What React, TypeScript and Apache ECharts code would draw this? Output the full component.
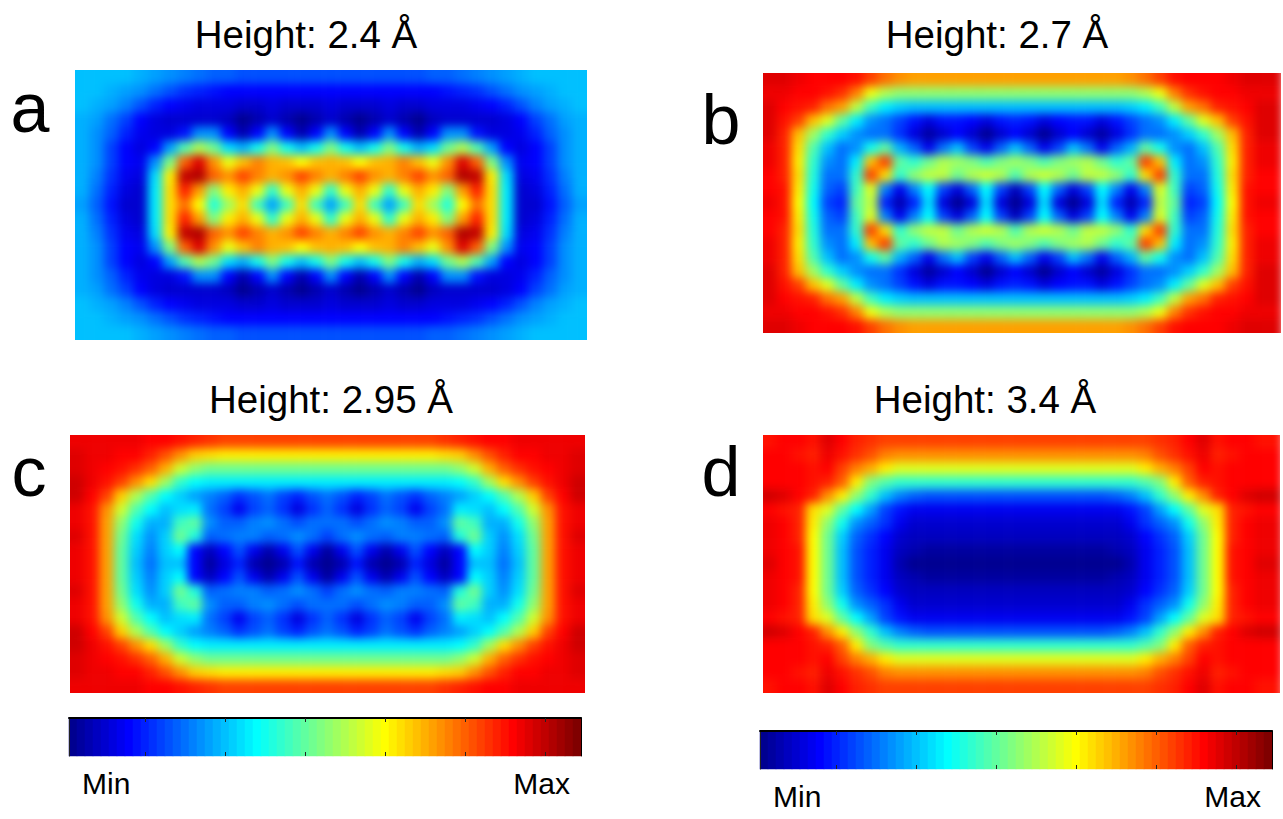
import React, { useEffect, useRef } from "react";
import * as echarts from "echarts";

const titles = ["Height: 2.4 Å", "Height: 2.7 Å", "Height: 2.95 Å", "Height: 3.4 Å"];
const letters = ["a", "b", "c", "d"];
const barLabels = ["Min", "Max"];
const jet = ["#000080", "#0000ff", "#0080ff", "#00ffff", "#80ff80", "#ffff00", "#ff8000", "#ff0000", "#800000"];
const levels = [1,2,3,4,5,6,7,8,9,10,11,12,13,14,15,16,17,18,19,20,21,22,23,24,25,26,27,28,29,30,31,32,33,34,35,36,37,38,39,40,41,42,43,44,45,46,47,48,49,50,51,52,53,54,55,56,57,58,59,60,61,62,63,64];

const panelA = [
[20,20,20,20,19,18,17,16,15,14,14,13,13,13,13,13,13,13,13,13,13,13,13,13,14,14,15,16,17,18,19,20,20,20,20],
[20,20,19,18,17,15,13,11,10,9,8,8,8,8,8,8,8,8,8,8,8,8,8,8,8,9,10,11,13,15,17,18,19,20,20],
[20,19,18,16,13,10,8,7,6,6,6,5,5,6,5,5,5,6,5,5,5,6,5,5,6,6,6,7,8,10,13,16,18,19,20],
[19,18,15,12,8,6,5,5,5,5,4,1,3,5,3,1,3,5,3,1,3,5,3,1,4,5,5,5,5,6,8,12,15,18,19],
[19,17,14,10,7,6,6,9,17,17,8,3,8,17,8,3,8,17,8,3,8,17,8,3,8,17,17,9,6,6,7,10,14,17,19],
[19,17,12,8,6,8,18,29,35,31,22,19,25,32,25,20,25,32,25,20,25,32,25,19,22,31,35,29,18,8,6,8,12,17,19],
[19,17,12,8,7,17,32,50,58,47,39,44,48,45,44,40,44,45,44,40,44,45,48,44,39,47,58,50,32,17,7,8,12,17,19],
[19,16,11,7,6,22,41,60,61,50,47,52,48,45,47,52,48,45,48,52,47,45,48,52,47,50,61,60,41,22,6,7,11,16,19],
[19,15,10,6,5,23,42,54,46,32,41,45,39,27,39,45,39,27,39,45,39,27,39,45,41,32,46,54,42,23,5,6,10,15,19],
[18,14,9,5,5,23,42,49,40,26,34,42,28,18,28,42,28,18,28,42,28,18,28,42,34,26,40,49,42,23,5,5,9,14,18],
[19,15,10,6,5,23,42,54,46,32,41,45,39,27,39,45,39,27,39,45,39,27,39,45,41,32,46,54,42,23,5,6,10,15,19],
[19,16,11,7,6,22,41,60,61,50,47,52,48,45,47,52,48,45,48,52,47,45,48,52,47,50,61,60,41,22,6,7,11,16,19],
[19,17,12,8,7,17,32,50,58,47,39,44,48,45,44,40,44,45,44,40,44,45,48,44,39,47,58,50,32,17,7,8,12,17,19],
[19,17,12,8,6,8,18,29,35,31,22,19,25,32,25,20,25,32,25,20,25,32,25,19,22,31,35,29,18,8,6,8,12,17,19],
[19,17,14,10,7,6,6,9,17,17,8,3,8,17,8,3,8,17,8,3,8,17,8,3,8,17,17,9,6,6,7,10,14,17,19],
[19,18,15,12,8,6,5,5,5,5,4,1,3,5,3,1,3,5,3,1,3,5,3,1,4,5,5,5,5,6,8,12,15,18,19],
[20,19,18,16,13,10,8,7,6,6,6,5,5,6,5,5,5,6,5,5,5,6,5,5,6,6,6,7,8,10,13,16,18,19,20],
[20,20,19,18,17,15,13,11,10,9,8,8,8,8,8,8,8,8,8,8,8,8,8,8,8,9,10,11,13,15,17,18,19,20,20],
[20,20,20,20,19,18,17,16,15,14,14,13,13,13,13,13,13,13,13,13,13,13,13,13,14,14,15,16,17,18,19,20,20,20,20],
];

const panelB = [
[58,58,57,56,56,56,55,52,49,47,46,46,46,46,46,46,46,46,46,46,46,46,46,46,46,47,49,52,55,56,56,56,57,58,58],
[57,57,56,56,55,53,48,39,35,33,33,33,33,33,33,33,33,33,33,33,33,33,33,33,33,33,35,39,48,53,55,56,56,57,57],
[58,56,55,54,49,46,36,28,23,21,20,20,20,20,20,20,20,20,20,20,20,20,20,20,20,21,23,28,36,46,49,54,55,56,58],
[58,55,52,44,38,30,23,17,15,12,9,6,9,9,8,6,9,10,9,6,8,9,9,6,9,12,15,17,23,30,38,44,52,55,58],
[58,54,44,34,27,21,17,15,15,11,6,2,5,8,5,1,5,8,5,1,5,8,5,2,6,11,15,15,17,21,27,34,44,54,58],
[57,54,42,29,20,15,17,25,30,19,14,7,15,20,12,7,14,20,14,7,12,20,15,7,14,19,30,25,17,15,20,29,42,54,57],
[57,54,41,27,17,15,23,44,52,30,27,31,35,34,32,29,32,34,32,29,32,34,35,31,27,30,52,44,23,15,17,27,41,54,57],
[56,54,42,26,15,15,27,52,42,27,33,36,36,31,35,37,35,29,35,37,35,31,36,36,33,27,42,52,27,15,15,26,42,54,56],
[56,55,41,25,14,12,28,38,16,7,16,24,12,6,14,24,12,4,12,24,14,6,12,24,16,7,16,38,28,12,14,25,41,55,56],
[57,55,40,24,12,10,30,36,10,3,10,22,6,1,6,22,6,1,6,22,6,1,6,22,10,3,10,36,30,10,12,24,40,55,57],
[56,55,41,25,14,12,28,38,16,7,16,24,12,6,14,24,12,4,12,24,14,6,12,24,16,7,16,38,28,12,14,25,41,55,56],
[56,54,42,26,15,15,27,52,42,27,33,36,36,31,35,37,35,29,35,37,35,31,36,36,33,27,42,52,27,15,15,26,42,54,56],
[57,54,41,27,17,15,23,44,52,30,27,31,35,34,32,29,32,34,32,29,32,34,35,31,27,30,52,44,23,15,17,27,41,54,57],
[57,54,42,29,20,15,17,25,30,19,14,7,15,20,12,7,14,20,14,7,12,20,15,7,14,19,30,25,17,15,20,29,42,54,57],
[58,54,44,34,27,21,17,15,15,11,6,2,5,8,5,1,5,8,5,1,5,8,5,2,6,11,15,15,17,21,27,34,44,54,58],
[58,55,52,44,38,30,23,17,15,12,9,6,9,9,8,6,9,10,9,6,8,9,9,6,9,12,15,17,23,30,38,44,52,55,58],
[58,56,55,54,49,46,36,28,23,21,20,20,20,20,20,20,20,20,20,20,20,20,20,20,20,21,23,28,36,46,49,54,55,56,58],
[57,57,56,56,55,53,48,39,35,33,33,33,33,33,33,33,33,33,33,33,33,33,33,33,33,33,35,39,48,53,55,56,56,57,57],
[58,58,57,56,56,56,55,52,49,47,46,46,46,46,46,46,46,46,46,46,46,46,46,46,46,47,49,52,55,56,56,56,57,58,58],
];

const panelC = [
[57,57,57,57,57,56,56,55,54,53,52,52,52,52,52,52,52,52,52,52,52,52,52,52,52,53,54,55,56,56,57,57,57,57,57],
[58,57,57,56,56,54,51,47,43,42,41,41,41,41,41,41,41,41,41,41,41,41,41,41,41,42,43,47,51,54,56,56,57,57,58],
[58,57,56,55,53,50,45,37,33,31,31,31,31,31,31,31,31,31,31,31,31,31,31,31,31,31,33,37,45,50,53,55,56,57,58],
[59,57,55,52,47,42,34,27,24,23,23,23,23,23,23,23,23,23,23,23,23,23,23,23,23,23,24,27,34,42,47,52,55,57,59],
[59,56,52,43,35,29,24,21,18,16,14,11,13,15,12,10,13,15,13,10,12,15,13,11,14,16,18,21,24,29,35,43,52,56,59],
[57,55,47,37,29,24,20,22,23,15,12,7,12,14,11,6,11,14,11,6,11,14,12,7,12,15,23,22,20,24,29,37,47,55,57],
[57,55,46,33,25,19,19,28,30,17,14,14,16,17,15,13,15,15,15,13,15,17,16,14,14,17,30,28,19,19,25,33,46,55,57],
[58,55,46,31,22,17,21,31,26,14,15,16,16,14,15,17,15,12,15,17,15,14,16,16,15,14,26,31,21,17,22,31,46,55,58],
[57,55,46,30,21,16,21,24,8,4,8,13,7,3,7,13,7,2,7,13,7,3,7,13,8,4,8,24,21,16,21,30,46,55,57],
[57,55,46,30,20,15,20,20,8,2,6,10,3,1,3,9,3,1,3,9,3,1,3,10,6,2,8,20,20,15,20,30,46,55,57],
[57,55,46,30,21,16,21,24,8,4,8,13,7,3,7,13,7,2,7,13,7,3,7,13,8,4,8,24,21,16,21,30,46,55,57],
[58,55,46,31,22,17,21,31,26,14,15,16,16,14,15,17,15,12,15,17,15,14,16,16,15,14,26,31,21,17,22,31,46,55,58],
[57,55,46,33,25,19,19,28,30,17,14,14,16,17,15,13,15,15,15,13,15,17,16,14,14,17,30,28,19,19,25,33,46,55,57],
[57,55,47,37,29,24,20,22,23,15,12,7,12,14,11,6,11,14,11,6,11,14,12,7,12,15,23,22,20,24,29,37,47,55,57],
[59,56,52,43,35,29,24,21,18,16,14,11,13,15,12,10,13,15,13,10,12,15,13,11,14,16,18,21,24,29,35,43,52,56,59],
[59,57,55,52,47,42,34,27,24,23,23,23,23,23,23,23,23,23,23,23,23,23,23,23,23,23,24,27,34,42,47,52,55,57,59],
[58,57,56,55,53,50,45,37,33,31,31,31,31,31,31,31,31,31,31,31,31,31,31,31,31,31,33,37,45,50,53,55,56,57,58],
[58,57,57,56,56,54,51,47,43,42,41,41,41,41,41,41,41,41,41,41,41,41,41,41,41,42,43,47,51,54,56,56,57,57,58],
[57,57,57,57,57,56,56,55,54,53,52,52,52,52,52,52,52,52,52,52,52,52,52,52,52,53,54,55,56,56,57,57,57,57,57],
];

const panelD = [
[55,56,56,55,58,56,54,53,52,52,52,52,52,52,52,52,52,52,52,52,52,52,52,52,52,52,52,53,54,56,58,55,56,56,55],
[56,56,55,54,57,55,53,51,48,47,47,47,47,47,47,47,47,47,47,47,47,47,47,47,47,47,48,51,53,55,57,54,55,56,56],
[56,56,56,55,56,52,48,45,41,38,38,38,38,38,38,38,38,38,38,38,38,38,38,38,38,38,41,45,48,52,56,55,56,56,56],
[56,56,56,55,54,50,41,32,29,27,27,27,27,27,27,27,27,27,27,27,27,27,27,27,27,27,29,32,41,50,54,55,56,56,56],
[59,58,56,54,47,41,33,27,20,16,14,13,13,13,13,13,13,13,13,13,13,13,13,13,14,16,20,27,33,41,47,54,56,58,59],
[56,55,54,42,38,30,24,18,12,9,7,7,7,7,7,7,7,7,7,7,7,7,7,7,7,9,12,18,24,30,38,42,54,55,56],
[57,56,54,41,33,25,17,14,11,7,5,5,5,5,5,5,5,5,5,5,5,5,5,5,5,7,11,14,17,25,33,41,54,56,57],
[57,56,54,40,31,21,14,11,8,5,4,4,4,4,4,4,4,4,4,4,4,4,4,4,4,5,8,11,14,21,31,40,54,56,57],
[57,56,55,40,31,20,13,10,7,4,3,2,2,2,2,2,2,2,2,2,2,2,2,2,3,4,7,10,13,20,31,40,55,56,57],
[58,56,55,40,31,20,13,10,7,3,1,1,1,1,1,1,1,1,1,1,1,1,1,1,1,3,7,10,13,20,31,40,55,56,58],
[57,56,55,40,31,20,13,10,7,4,3,2,2,2,2,2,2,2,2,2,2,2,2,2,3,4,7,10,13,20,31,40,55,56,57],
[57,56,54,40,31,21,14,11,8,5,4,4,4,4,4,4,4,4,4,4,4,4,4,4,4,5,8,11,14,21,31,40,54,56,57],
[57,56,54,41,33,25,17,14,11,7,5,5,5,5,5,5,5,5,5,5,5,5,5,5,5,7,11,14,17,25,33,41,54,56,57],
[56,55,54,42,38,30,24,18,12,9,7,7,7,7,7,7,7,7,7,7,7,7,7,7,7,9,12,18,24,30,38,42,54,55,56],
[59,58,56,54,47,41,33,27,20,16,14,13,13,13,13,13,13,13,13,13,13,13,13,13,14,16,20,27,33,41,47,54,56,58,59],
[56,56,56,55,54,50,41,32,29,27,27,27,27,27,27,27,27,27,27,27,27,27,27,27,27,27,29,32,41,50,54,55,56,56,56],
[56,56,56,55,56,52,48,45,41,38,38,38,38,38,38,38,38,38,38,38,38,38,38,38,38,38,41,45,48,52,56,55,56,56,56],
[56,56,55,54,57,55,53,51,48,47,47,47,47,47,47,47,47,47,47,47,47,47,47,47,47,47,48,51,53,55,57,54,55,56,56],
[55,56,56,55,58,56,54,53,52,52,52,52,52,52,52,52,52,52,52,52,52,52,52,52,52,52,52,53,54,56,58,55,56,56,55],
];

const panels = [
  { rows: panelA, x: 75, y: 70, w: 512, h: 270 },
  { rows: panelB, x: 763, y: 73, w: 518, h: 260 },
  { rows: panelC, x: 70, y: 435, w: 515, h: 258 },
  { rows: panelD, x: 763, y: 435, w: 517, h: 258 },
];
const bars = [
  { x: 69, y: 718, w: 512, h: 38 },
  { x: 760, y: 731, w: 512, h: 38 },
];
const font = "Liberation Sans";

function heatOption() {
  const grid: any[] = [], xAxis: any[] = [], yAxis: any[] = [], series: any[] = [];
  panels.forEach((p, k) => {
    const nr = p.rows.length, nc = p.rows[0].length;
    const cw = p.w / nc, ch = p.h / nr;
    // one clipped ring of cells repeats the edge so the blur does not fade into the white page
    grid.push({ left: p.x - cw, top: p.y - ch, width: p.w + 2 * cw, height: p.h + 2 * ch });
    const cols = Array.from({ length: nc + 2 }, (_, i) => i);
    const rws = Array.from({ length: nr + 2 }, (_, i) => i);
    xAxis.push({ type: "category", gridIndex: k, data: cols, show: false });
    yAxis.push({ type: "category", gridIndex: k, data: rws, show: false, inverse: true });
    const data: number[][] = [];
    rws.forEach((j) => {
      const r = p.rows[Math.min(nr - 1, Math.max(0, j - 1))];
      cols.forEach((i) => data.push([i, j, r[Math.min(nc - 1, Math.max(0, i - 1))]]));
    });
    series.push({ type: "heatmap", xAxisIndex: k, yAxisIndex: k, data, silent: true, progressive: 0, itemStyle: { borderWidth: 0 } });
  });
  return {
    animation: false,
    grid, xAxis, yAxis, series,
    visualMap: { show: false, min: 0, max: 64, inRange: { color: jet } },
  };
}

function overlayOption() {
  const grid: any[] = [], xAxis: any[] = [], yAxis: any[] = [], series: any[] = [];
  const tick = {
    show: true, inside: true, length: 4, alignWithLabel: true,
    interval: (i: number) => (i + 1) % 10 === 0,
    lineStyle: { color: "#222", width: 1 },
  };
  bars.forEach((b, k) => {
    grid.push({ left: b.x, top: b.y, width: b.w, height: b.h });
    const ax = k * 2;
    xAxis.push({ type: "category", gridIndex: k, position: "top", data: levels, axisLabel: { show: false }, axisTick: tick, axisLine: { show: true, lineStyle: { color: "#000", width: 2 } }, z: 5 });
    xAxis.push({ type: "category", gridIndex: k, position: "bottom", data: levels, axisLabel: { show: false }, axisTick: tick, axisLine: { show: false }, z: 5 });
    yAxis.push({ type: "category", gridIndex: k, position: "left", data: [""], axisLabel: { show: false }, axisTick: { show: false }, axisLine: { show: true, lineStyle: { color: "#222" } }, z: 5 });
    yAxis.push({ type: "category", gridIndex: k, position: "right", data: [""], axisLabel: { show: false }, axisTick: { show: false }, axisLine: { show: true, lineStyle: { color: "#000" } }, z: 5 });
    series.push({
      type: "heatmap", xAxisIndex: ax, yAxisIndex: ax, silent: true, z: 1,
      data: levels.map((v, i) => [i, 0, v]), itemStyle: { borderWidth: 0 },
    });
  });
  const text = (t: string, x: number, y: number, size: number, align: string) => ({
    type: "text", x, y, silent: true,
    style: { text: t, fontFamily: font, fontSize: size, fill: "#000", textAlign: align, textVerticalAlign: "middle" },
  });
  const graphic = [
    text(titles[0], 306, 34, 38.5, "center"),
    text(titles[1], 997, 34, 38.5, "center"),
    text(titles[2], 331, 399, 38.5, "center"),
    text(titles[3], 985, 399, 38.5, "center"),
    text(letters[0], 30, 108, 70, "center"),
    text(letters[1], 721, 120, 70, "center"),
    text(letters[2], 29, 472, 70, "center"),
    text(letters[3], 721, 472, 70, "center"),
    text(barLabels[0], 82, 783, 30, "left"),
    text(barLabels[1], 570, 783, 30, "right"),
    text(barLabels[0], 773, 796, 30, "left"),
    text(barLabels[1], 1261, 796, 30, "right"),
  ];
  return {
    animation: false, grid, xAxis, yAxis, series, graphic,
    visualMap: { show: false, min: 0, max: 64, inRange: { color: jet } },
  };
}

const clip = panels.map((p) => `M${p.x} ${p.y}H${p.x + p.w}V${p.y + p.h}H${p.x}Z`).join(" ");
const layer: React.CSSProperties = { position: "absolute", left: 0, top: 0, width: 1283, height: 819 };

export default function App() {
  const heatRef = useRef<HTMLDivElement>(null);
  const overRef = useRef<HTMLDivElement>(null);
  useEffect(() => {
    const heat = echarts.init(heatRef.current!, undefined, { renderer: "svg" });
    const over = echarts.init(overRef.current!, undefined, { renderer: "svg" });
    heat.setOption(heatOption() as any);
    over.setOption(overlayOption() as any);
    return () => {
      heat.dispose();
      over.dispose();
    };
  }, []);
  return (
    <div style={{ ...layer, overflow: "hidden", background: "#fff" }}>
      <div style={{ ...layer, clipPath: `path("${clip}")` }}>
        <div ref={heatRef} style={{ ...layer, filter: "blur(5px)" }} />
      </div>
      <div ref={overRef} style={layer} />
    </div>
  );
}
